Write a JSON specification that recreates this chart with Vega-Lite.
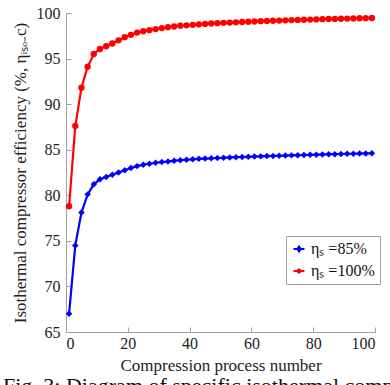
{
  "$schema": "https://vega.github.io/schema/vega-lite/v6.json",
  "width": 309,
  "height": 319,
  "autosize": {"type": "none"},
  "padding": {"left": 66, "top": 13, "right": 15, "bottom": 53},
  "background": "white",
  "config": {
    "font": "Times New Roman",
    "view": {"stroke": null},
    "axis": {"grid": false, "domainColor": "#a0a0a0", "tickColor": "#a0a0a0", "labelColor": "#222", "titleColor": "#222", "labelFontSize": 16, "titleFontSize": 17, "titleFontWeight": "normal"}
  },
  "data": {"values": [
    {"x":1,"s85":67.0,"s100":78.8},{"x":3,"s85":74.5,"s100":87.6},{"x":5,"s85":78.1,"s100":91.8},{"x":7,"s85":80.1,"s100":94.1},{"x":9,"s85":81.2,"s100":95.5},
    {"x":11,"s85":81.75,"s100":96.05},{"x":13,"s85":82.0,"s100":96.35},{"x":15,"s85":82.25,"s100":96.65},{"x":17,"s85":82.5,"s100":97.0},{"x":19,"s85":82.75,"s100":97.35},
    {"x":21,"s85":83.0,"s100":97.6},{"x":23,"s85":83.2,"s100":97.85},{"x":25,"s85":83.35,"s100":98.0},{"x":27,"s85":83.46,"s100":98.12},{"x":29,"s85":83.57,"s100":98.24},
    {"x":31,"s85":83.64,"s100":98.35},{"x":33,"s85":83.7,"s100":98.45},{"x":35,"s85":83.78,"s100":98.52},{"x":37,"s85":83.85,"s100":98.6},{"x":39,"s85":83.9,"s100":98.65},
    {"x":41,"s85":83.95,"s100":98.7},{"x":43,"s85":84.0,"s100":98.75},{"x":45,"s85":84.03,"s100":98.8},{"x":47,"s85":84.06,"s100":98.85},{"x":49,"s85":84.09,"s100":98.88},
    {"x":51,"s85":84.12,"s100":98.92},{"x":53,"s85":84.15,"s100":98.95},{"x":55,"s85":84.18,"s100":98.98},{"x":57,"s85":84.2,"s100":99.01},{"x":59,"s85":84.23,"s100":99.04},
    {"x":61,"s85":84.25,"s100":99.07},{"x":63,"s85":84.27,"s100":99.1},{"x":65,"s85":84.3,"s100":99.12},{"x":67,"s85":84.32,"s100":99.15},{"x":69,"s85":84.34,"s100":99.17},
    {"x":71,"s85":84.36,"s100":99.2},{"x":73,"s85":84.38,"s100":99.22},{"x":75,"s85":84.4,"s100":99.24},{"x":77,"s85":84.42,"s100":99.26},{"x":79,"s85":84.44,"s100":99.28},
    {"x":81,"s85":84.46,"s100":99.3},{"x":83,"s85":84.48,"s100":99.32},{"x":85,"s85":84.5,"s100":99.34},{"x":87,"s85":84.51,"s100":99.35},{"x":89,"s85":84.53,"s100":99.37},
    {"x":91,"s85":84.55,"s100":99.39},{"x":93,"s85":84.56,"s100":99.4},{"x":95,"s85":84.58,"s100":99.42},{"x":97,"s85":84.59,"s100":99.43},{"x":99,"s85":84.6,"s100":99.45}
  ]},
  "transform": [
    {"fold": ["s85", "s100"], "as": ["key", "value"]},
    {"lookup": "key", "from": {"data": {"values": [{"key": "s85", "series": "ηₛ =85%"}, {"key": "s100", "series": "ηₛ =100%"}]}, "key": "key", "fields": ["series"]}}
  ],
  "title": {"text": "Fig. 3: Diagram of specific isothermal compression in the model", "orient": "bottom", "anchor": "start", "frame": "group", "font": "Times New Roman", "fontSize": 22, "fontWeight": "normal", "color": "#111", "offset": 3, "dx": -63},
  "layer": [
    {
      "mark": {"type": "line", "strokeWidth": 2.2},
      "encoding": {
        "x": {"field": "x", "type": "quantitative", "scale": {"domain": [0, 100]}, "axis": {"values": [0, 20, 40, 60, 80, 100], "tickSize": -5, "labelPadding": 8, "title": "Compression process number", "titlePadding": 6, "labelFont": "Times New Roman", "titleFont": "Times New Roman"}},
        "y": {"field": "value", "type": "quantitative", "scale": {"domain": [65, 100]}, "axis": {"values": [65, 70, 75, 80, 85, 90, 95, 100], "tickSize": -5, "labelPadding": 11, "title": "Isothermal compressor efficiency (%, ηᵢₛₒ₋c)", "titlePadding": 7, "labelFont": "Times New Roman", "titleFont": "Times New Roman"}},
        "color": {"field": "series", "type": "nominal", "scale": {"domain": ["ηₛ =85%", "ηₛ =100%"], "range": ["#0000ff", "#ff0000"]}, "legend": {
          "title": null, "orient": "none", "legendX": 220, "legendY": 223,
          "strokeColor": "#a0a0a0", "fillColor": "white", "padding": 5, "labelFont": "Times New Roman", "labelFontSize": 16, "labelColor": "#111", "symbolSize": 120, "rowPadding": 6, "labelOffset": 4,
          "symbolType": "M-1,0H1", "symbolStrokeWidth": 2,
          "encode": {"symbols": {"update": {
            "shape": {"signal": "datum.index === 0 ? 'M-1,0H1M0,-0.45L0.3,0L0,0.45L-0.3,0Z' : 'M-1,0H1M0.28,0A0.28,0.28,0,1,1,-0.28,0A0.28,0.28,0,1,1,0.28,0Z'"},
            "fill": {"signal": "datum.index === 0 ? '#0000ff' : '#ff0000'"},
            "strokeWidth": {"value": 2}
          }}}
        }},
        "detail": {"field": "series"}
      }
    },
    {
      "transform": [{"filter": "datum.key === 's85'"}],
      "mark": {"type": "point", "filled": true, "opacity": 1, "size": 42, "shape": "diamond", "color": "#0000ff"},
      "encoding": {
        "x": {"field": "x", "type": "quantitative"},
        "y": {"field": "value", "type": "quantitative"}
      }
    },
    {
      "transform": [{"filter": "datum.key === 's100'"}],
      "mark": {"type": "point", "filled": true, "opacity": 1, "size": 40, "shape": "circle", "color": "#ff0000"},
      "encoding": {
        "x": {"field": "x", "type": "quantitative"},
        "y": {"field": "value", "type": "quantitative"}
      }
    }
  ]
}
